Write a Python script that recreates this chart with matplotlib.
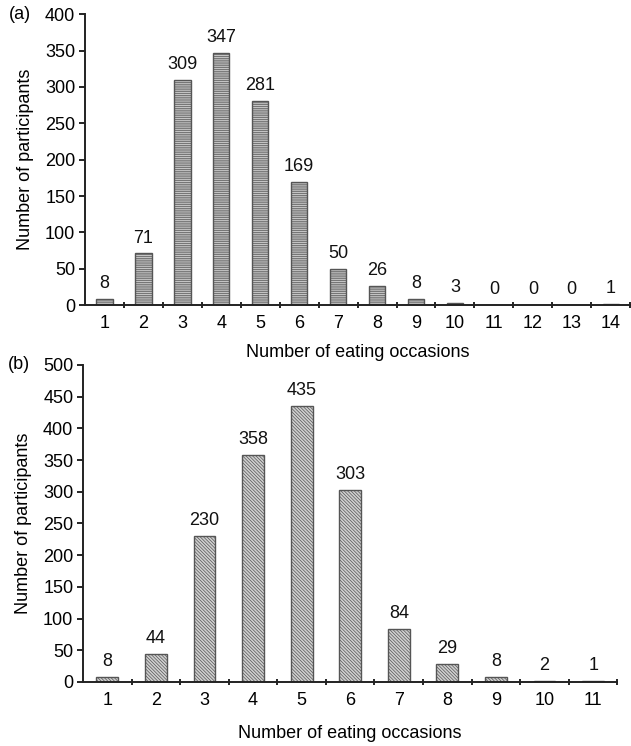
import matplotlib
matplotlib.use("Agg")
import matplotlib.pyplot as plt

plt.rcParams['font.family'] = ['Liberation Sans', 'DejaVu Sans']
plt.rcParams['hatch.linewidth'] = 0.5

cats_a = list(range(1, 15))
vals_a = [8, 71, 309, 347, 281, 169, 50, 26, 8, 3, 0, 0, 0, 1]
cats_b = list(range(1, 12))
vals_b = [8, 44, 230, 358, 435, 303, 84, 29, 8, 2, 1]

FS = 13

fig = plt.figure(figsize=(6.31, 7.46), dpi=100)
ax_a = fig.add_axes([0.1347, 0.591, 0.864, 0.390])
ax_b = fig.add_axes([0.1315, 0.0858, 0.847, 0.425])

def draw(ax, cats, vals, ymax, step, hatch, face, width, label, xlabelpad):
    ax.bar(cats, vals, width=width, color=face, edgecolor='#555555',
           linewidth=1.0, hatch=hatch)
    for c, v in zip(cats, vals):
        ax.annotate(str(v), (c, v), xytext=(0, 5), textcoords='offset points',
                    ha='center', va='bottom', fontsize=FS, color='#111111')
    ax.set_xlim(0.5, len(cats) + 0.5)
    ax.set_ylim(0, ymax)
    ax.set_yticks(range(0, ymax + 1, step))
    ax.set_xticks(cats)
    ax.set_xticks([c + 0.5 for c in cats[:-1]] + [len(cats) + 0.5], minor=True)
    ax.tick_params(axis='x', which='major', length=0, labelsize=FS, pad=7)
    ax.tick_params(axis='x', which='minor', length=4, direction='inout', width=1.2)
    ax.tick_params(axis='y', length=4, width=1.2, labelsize=FS, pad=3)
    for s in ['top', 'right']:
        ax.spines[s].set_visible(False)
    for s in ['left', 'bottom']:
        ax.spines[s].set_linewidth(1.4)
        ax.spines[s].set_color('#222222')
    ax.set_ylabel('Number of participants', fontsize=FS, labelpad=8)
    ax.set_xlabel('Number of eating occasions', fontsize=FS, labelpad=xlabelpad)
    ax.text(-0.14, 1.0, label, transform=ax.transAxes, fontsize=FS,
            ha='left', va='center')

draw(ax_a, cats_a, vals_a, 400, 50, '---------', '#c4c4c4', 0.42, '(a)', 9)
draw(ax_b, cats_b, vals_b, 500, 50, '\\\\\\\\\\\\\\\\\\\\', '#d0d0d0', 0.45, '(b)', 12)

fig.savefig('out.png', dpi=100)
